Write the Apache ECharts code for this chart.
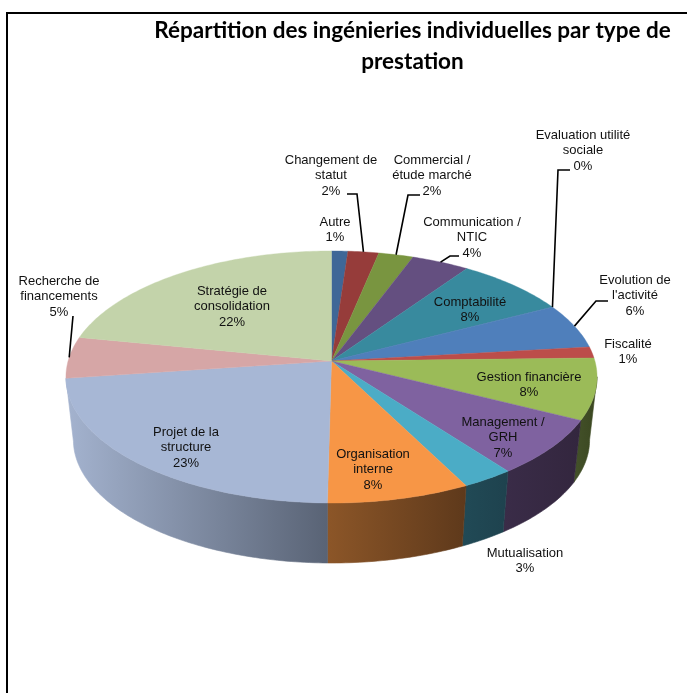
<!DOCTYPE html>
<html><head><meta charset="utf-8">
<style>html,body{margin:0;padding:0;background:#fff}#c{width:687px;height:693px}</style>
<script src="https://cdn.jsdelivr.net/npm/echarts@6/dist/echarts.min.js"></script>
</head><body><div id="c"></div>
<script>
const categories = ["Autre","Changement de statut","Commercial / étude marché","Communication / NTIC","Comptabilité","Evaluation utilité sociale","Evolution de l'activité","Fiscalité","Gestion financière","Management / GRH","Mutualisation","Organisation interne","Projet de la structure","Recherche de financements","Stratégie de consolidation"];
const values = [1.12,2.12,2.39,3.98,7.76,0.04,5.76,1.44,7.85,7.25,2.8,7.7,22.6,5.3,21.88];
const labelLines = [["Autre"],["Changement de","statut"],["Commercial /","étude marché"],["Communication /","NTIC"],["Comptabilité"],["Evaluation utilité","sociale"],["Evolution de","l'activité"],["Fiscalité"],["Gestion financière"],["Management /","GRH"],["Mutualisation"],["Organisation","interne"],["Projet de la","structure"],["Recherche de","financements"],["Stratégie de","consolidation"]];
const titleLines = ["Répartition des ingénieries individuelles par type de","prestation"];

const topColors = ["#3F6797","#963C3A","#799540","#644F80","#388A9E","#4A82A8","#4F7FBB","#BC4D4A","#9BBB58","#7F62A0","#4BACC6","#F79646","#A7B7D5","#D6A6A6","#C3D3AA"];
const wallColors = [null,null,null,null,null,null,null,null,["#44522A","#3A4620"],["#3A2C48","#33263E"],["#214A56","#1E424E"],["#8C5628","#5E391B"],["#A4B3CF","#596375"],null,null];
const labelAnchor = [[335,222],[331,160],[432,160],[472,222],[470,302],[583,135],[635,280],[628,344],[529,377],[503,422],[525,553],[373,454],[186,432],[59,281],[232,291]];
const leaderElbows = {1:[[357,194],[347,194]],2:[[408,195],[420,195]],3:[[450,256],[459,256]],5:[[558,170],[570,170]],6:[[596,301],[608,301]],13:[[73,316]]};

const total = values.reduce((a,b)=>a+b,0);
const cum=[0]; values.forEach(v=>cum.push(cum[cum.length-1]+v/total));
const K=0.127;
const topDisc={cx:331.5,cy:361,R:263.4,S:124};
const baseDisc={cx:331.5,cy:424.4,R:256,S:121};
function proj(d,a,r){r=r==null?1:r;const X=Math.sin(a)*r,Y=Math.cos(a)*r,w=1+K*Y;return [d.cx+d.R*X/w,d.cy-d.S*Y/w];}
function arc(d,f0,f1){const n=Math.max(2,Math.ceil((f1-f0)*400)),p=[];for(let i=0;i<=n;i++){p.push(proj(d,2*Math.PI*(f0+(f1-f0)*i/n)));}return p;}

function renderWall(params,api){
  const i=params.dataIndex; const f0=Math.max(cum[i],0.27),f1=Math.min(cum[i+1],0.735);
  if(f1<=f0||!wallColors[i]) return;
  const a=arc(topDisc,f0,f1),b=arc(baseDisc,f0,f1).reverse();
  const c=wallColors[i],pts=a.concat(b);
  const grad=new echarts.graphic.LinearGradient(0,0,1,0,[{offset:0,color:c[0]},{offset:1,color:c[1]}]);
  return {type:'polygon',shape:{points:pts},style:{fill:grad,stroke:grad,lineWidth:0.6},silent:true};
}
function renderTop(params,api){
  const i=params.dataIndex,pts=[proj(topDisc,0,0)].concat(arc(topDisc,cum[i],cum[i+1]));
  return {type:'polygon',shape:{points:pts},style:{fill:topColors[i],stroke:topColors[i],lineWidth:0.4}};
}
function renderLabel(params,api){
  const i=params.dataIndex,[x,y]=labelAnchor[i];
  const children=[],mid=(cum[i]+cum[i+1])/2;
  const lines=labelLines[i].concat([Math.round(values[i]/total*100)+"%"]);
  lines.forEach((t,j)=>children.push({type:'text',style:{text:t,x:x,y:y+j*15.6,align:'center',verticalAlign:'middle',fontFamily:'"Liberation Sans",Arial,sans-serif',fontSize:13,fill:'#111'}}));
  if(leaderElbows[i]){
    const pts=[proj(topDisc,2*Math.PI*mid)].concat(leaderElbows[i]);
    children.push({type:'polyline',shape:{points:pts},style:{fill:null,stroke:'#000',lineWidth:1.6}});
  }
  return {type:'group',children:children};
}
const rows=categories.map((c,i)=>({name:c,value:values[i]}));
const chart=echarts.init(document.getElementById('c'),null,{renderer:'canvas'});
chart.setOption({
  animation:false,backgroundColor:'#fff',
  graphic:[
    {type:'polyline',shape:{points:[[7,693],[7,13],[687,13]]},style:{fill:null,stroke:'#000',lineWidth:2},z:0},
    {type:'text',style:{text:titleLines[0],x:412.5,y:31,align:'center',verticalAlign:'middle',fontFamily:'Lato,sans-serif',fontWeight:'bold',fontSize:22.5,fill:'#000'},z:5},
    {type:'text',style:{text:titleLines[1],x:412.5,y:62,align:'center',verticalAlign:'middle',fontFamily:'Lato,sans-serif',fontWeight:'bold',fontSize:22.5,fill:'#000'},z:5}
  ],
  series:[
    {type:'custom',coordinateSystem:'none',renderItem:renderWall,data:rows,z:1,silent:true},
    {type:'custom',coordinateSystem:'none',renderItem:renderTop,data:rows,z:2,silent:true},
    {type:'custom',coordinateSystem:'none',renderItem:renderLabel,data:rows,z:3,silent:true}
  ]
});
</script></body></html>
